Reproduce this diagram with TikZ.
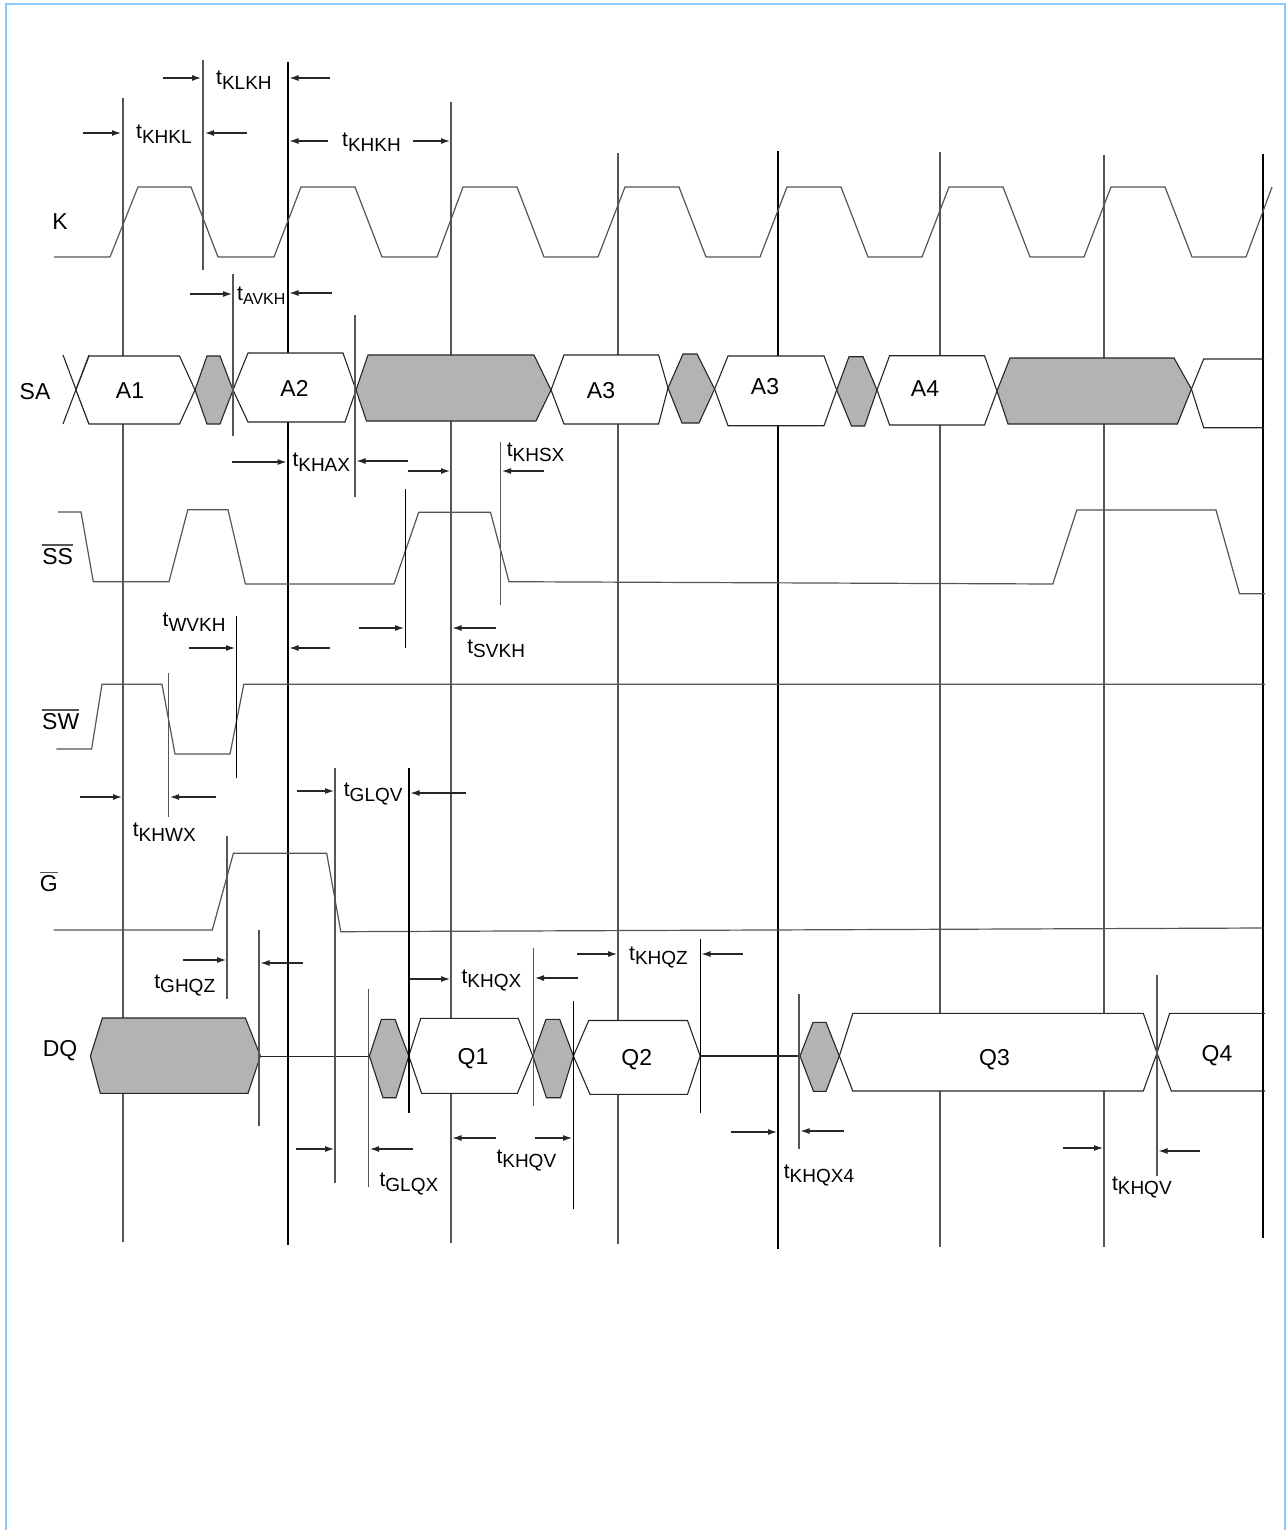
\documentclass[tikz,border=0pt]{standalone}
\usepackage{fontspec}
\setmainfont{Liberation Sans}
\usetikzlibrary{arrows.meta}
\definecolor{frameblue}{RGB}{140,200,250}
\definecolor{busgray}{RGB}{179,179,179}
\definecolor{wavegray}{RGB}{85,85,85}
\newcommand{\tsub}[2][19]{t\raisebox{-4.5pt}{\fontsize{#1}{#1}\selectfont #2}}
\begin{document}
\begin{tikzpicture}[x=1pt,y=-1pt,line join=miter,
  wave/.style={draw=wavegray,line width=1.2pt},
  guide/.style={draw=wavegray,line width=1.2pt},
  guideb/.style={draw=black,line width=1.15pt},
  busw/.style={draw=black!85,fill=white,line width=1.1pt},
  busg/.style={draw=black!85,fill=busgray,line width=1.1pt},
  busline/.style={draw=black!85,line width=1.1pt},
  tarr/.style={draw=black!85,line width=1.1pt,-{Latex[length=9pt,width=6pt]}},
  sig/.style={font=\fontsize{23}{26}\selectfont,inner sep=0pt,anchor=base},
  tl/.style={font=\fontsize{21}{24}\selectfont,inner sep=0pt,anchor=base west},
]
\useasboundingbox (0,0) rectangle (1286,1530);
% frame
\draw[frameblue,line width=2.5pt] (6,1532) -- (6,4) -- (1285,4) -- (1285,1532);

% guide lines
\draw[guide] (123,98) -- (123,1242);
\draw[guide] (203,60) -- (203,270);
\draw[guideb] (288,62) -- (288,1245);
\draw[guide] (451,102) -- (451,1243);
\draw[guide] (618,153) -- (618,1244);
\draw[guideb] (778,151) -- (778,1249);
\draw[guide] (940,152) -- (940,1247);
\draw[guide] (1104,155) -- (1104,1247);
\draw[guideb] (1263,154) -- (1263,1238);

% K
\draw[wave] (54,257) -- (110,257) -- (138,187) -- (191,187) -- (218,257) -- (274,257) -- (301,187) -- (355,187) -- (382,257) -- (437,257) -- (463,187) -- (517,187) -- (544,257) -- (598,257) -- (625,187) -- (679,187) -- (706,257) -- (760,257) -- (787,187) -- (841,187) -- (868,257) -- (922,257) -- (949,187) -- (1003,187) -- (1030,257) -- (1084,257) -- (1111,187) -- (1165,187) -- (1192,257) -- (1246,257) -- (1272,187);

% SA bus
\draw[busline] (63,355) -- (89,424) (63,424) -- (89,355);
\draw[busw] (76,390) -- (89,356) -- (179.5,356) -- (195,390) -- (179.5,424) -- (89,424) -- cycle;
\draw[busg] (195,390) -- (207,356) -- (220,356) -- (233,390) -- (220,424) -- (207,424) -- cycle;
\draw[busw] (233,390) -- (248,353) -- (343,353) -- (356,390) -- (345,422) -- (248,422) -- cycle;
\draw[busg] (356,390) -- (368,355) -- (534,355) -- (551,390) -- (536,421) -- (366.5,421) -- cycle;
\draw[busw] (551,390) -- (564,355) -- (658.6,355) -- (668,388) -- (658.6,424) -- (564,424) -- cycle;
\draw[busg] (668,388) -- (683,354) -- (697,354) -- (714.6,389) -- (699,423) -- (682,423) -- cycle;
\draw[busw] (714.6,389) -- (728,356) -- (824,356) -- (836.7,390) -- (824,425.7) -- (728,425.7) -- cycle;
\draw[busg] (836.7,390) -- (849,356.7) -- (863,356.7) -- (877,390) -- (864.6,426) -- (851.5,426) -- cycle;
\draw[busw] (877,390) -- (889.6,355.7) -- (984.5,355.7) -- (997,391) -- (984.5,425) -- (889.6,425) -- cycle;
\draw[busg] (997,391) -- (1010,358) -- (1174,358) -- (1191.4,389) -- (1177.4,424) -- (1008,424) -- cycle;
\draw[busline] (1264,359) -- (1203.7,359) -- (1191.4,389) -- (1203.7,427.7) -- (1264,427.7);

% SS
\draw[wave] (58,512) -- (81,512) -- (93.3,581.7) -- (169,581.7) -- (187.8,509.7) -- (228,509.7) -- (245.4,584) -- (394,584) -- (418.7,512.3) -- (490.5,512.3) -- (509,581.7) -- (1052.8,584) -- (1076.8,510) -- (1216,510) -- (1239.5,593.7) -- (1265,593.7);
% SW
\draw[wave] (56.4,749) -- (91.6,749) -- (102,684.3) -- (162,684.3) -- (175,754) -- (230,754) -- (243.8,684.3) -- (1265,684.3);
% G
\draw[wave] (53.5,930) -- (212.3,930) -- (233.4,853.3) -- (326.7,853.3) -- (340.8,931.7) -- (1263,928);

% DQ bus
\draw[busg] (90.4,1056) -- (102.4,1018) -- (245.4,1018) -- (260.4,1056) -- (248,1093.3) -- (100.3,1093.3) -- cycle;
\draw[busline] (260.4,1056.5) -- (369.4,1056.5);
\draw[busg] (369.4,1056) -- (381.4,1019.3) -- (395,1019.3) -- (408.8,1056) -- (396,1097.7) -- (383,1097.7) -- cycle;
\draw[busw] (408.8,1056) -- (420.8,1018.3) -- (518.2,1018.3) -- (532.8,1056) -- (517.4,1093.3) -- (421.6,1093.3) -- cycle;
\draw[busg] (532.8,1056) -- (546,1019.3) -- (559.7,1019.3) -- (573.4,1056) -- (560.5,1097.7) -- (546.4,1097.7) -- cycle;
\draw[busw] (573.4,1056) -- (588.7,1020.5) -- (687.5,1020.5) -- (700.2,1056) -- (687.5,1094.3) -- (590,1094.3) -- cycle;
\draw[busline] (700.2,1056) -- (800,1056);
\draw[busg] (800,1056) -- (813,1022.3) -- (826,1022.3) -- (839.3,1056) -- (826,1091.3) -- (813.5,1091.3) -- cycle;
\draw[busw] (839.3,1056) -- (852.8,1013.3) -- (1143.3,1013.3) -- (1157,1053) -- (1143.3,1091) -- (852.8,1091) -- cycle;
\draw[busline] (1265,1013.3) -- (1169.6,1013.3) -- (1157,1053) -- (1171.3,1091) -- (1265,1091);

% timing reference lines
\draw[guide] (233,274) -- (233,436);
\draw[guide] (355,315) -- (355,497);
\draw[guide] (500.5,442) -- (500.5,605);
\draw[guideb] (405.5,489) -- (405.5,648);
\draw[guide] (168.3,673) -- (168.3,817);
\draw[guideb] (236.3,616) -- (236.3,778);
\draw[guide] (227,836) -- (227,999);
\draw[guide] (259,930) -- (259,1126);
\draw[guide] (335,768) -- (335,1183);
\draw[guideb] (409,768) -- (409,1113);
\draw[guide] (533.6,948) -- (533.6,1106);
\draw[guideb] (573.4,1001) -- (573.4,1209);
\draw[guide] (368.6,989) -- (368.6,1187);
\draw[guideb] (700.2,939) -- (700.2,1113);
\draw[guide] (799,994) -- (799,1149);
\draw[guide] (1157,975) -- (1157,1176);

% arrows
\draw[tarr] (163,78) -- (201,78);   \draw[tarr] (330,78) -- (289.5,78);
\draw[tarr] (83,133) -- (121,133);  \draw[tarr] (247,133) -- (205,133);
\draw[tarr] (328,141) -- (289.5,141); \draw[tarr] (413,141) -- (450,141);
\draw[tarr] (190,294) -- (232,294); \draw[tarr] (332,293) -- (289.5,293);
\draw[tarr] (232,462) -- (286.5,462); \draw[tarr] (407.5,461) -- (356.5,461);
\draw[tarr] (408,471) -- (450,471); \draw[tarr] (544,471) -- (502,471);
\draw[tarr] (189,648) -- (235,648); \draw[tarr] (330,648) -- (289.5,648);
\draw[tarr] (359,628) -- (404,628); \draw[tarr] (496,628) -- (452.5,628);
\draw[tarr] (80,797) -- (122,797);  \draw[tarr] (216,797) -- (170,797);
\draw[tarr] (297,791) -- (334,791); \draw[tarr] (466,793) -- (410.5,793);
\draw[tarr] (183,960) -- (226,960); \draw[tarr] (303,963) -- (260.5,963);
\draw[tarr] (410,979) -- (450,979); \draw[tarr] (577.5,978) -- (535,978);
\draw[tarr] (577,954) -- (617,954); \draw[tarr] (743,954) -- (701.5,954);
\draw[tarr] (296,1149) -- (334,1149); \draw[tarr] (412.5,1149) -- (370,1149);
\draw[tarr] (496,1138) -- (452.5,1138); \draw[tarr] (535,1138) -- (572,1138);
\draw[tarr] (731,1132) -- (777,1132); \draw[tarr] (844,1131) -- (800.5,1131);
\draw[tarr] (1063,1148) -- (1103,1148); \draw[tarr] (1200,1151) -- (1158.5,1151);

% signal labels
\node[sig] (lK) at (60,230) {K};
\node[sig] (lSA) at (35,399) {SA};
\node[sig] (lA1) at (130,398) {A1};
\node[sig] (lA2) at (294.5,396.7) {A2};
\node[sig] (lA3) at (601,398.3) {A3};
\node[sig] (lA3b) at (765,394) {A3};
\node[sig] (lA4) at (925,396.7) {A4};
\node[sig] (lSS) at (57.6,564.3) {SS};
\draw[wave] ([yshift=3pt]lSS.north west) -- ([yshift=3pt]lSS.north east);
\node[sig] (lSW) at (60.7,729.3) {SW};
\draw[wave] ([yshift=3pt]lSW.north west) -- ([yshift=3pt]lSW.north east);
\node[sig] (lG) at (48.7,891.7) {G};
\draw[wave] ([yshift=3pt]lG.north west) -- ([yshift=3pt]lG.north east);
\node[sig] (lDQ) at (60,1056) {DQ};
\node[sig] (lQ1) at (473,1064) {Q1};
\node[sig] (lQ2) at (636.8,1065) {Q2};
\node[sig] (lQ3) at (994.5,1065) {Q3};
\node[sig] (lQ4) at (1217,1061) {Q4};

% timing labels
\node[tl] (t1) at (216,85) {\tsub{KLKH}};
\node[tl] (t2) at (136,139) {\tsub{KHKL}};
\node[tl] (t3) at (342,146.7) {\tsub{KHKH}};
\node[tl] (t4) at (237,300) {\tsub[16]{AVKH}};
\node[tl] (t5) at (292.3,466.7) {\tsub{KHAX}};
\node[tl] (t6) at (506.6,456.7) {\tsub{KHSX}};
\node[tl] (t7) at (162.5,626.7) {\tsub{WVKH}};
\node[tl] (t8) at (467.2,653.3) {\tsub{SVKH}};
\node[tl] (t9) at (132.7,836.7) {\tsub{KHWX}};
\node[tl] (t10) at (343.7,796.7) {\tsub{GLQV}};
\node[tl] (t11) at (154.2,988.3) {\tsub{GHQZ}};
\node[tl] (t12) at (461.4,983.3) {\tsub{KHQX}};
\node[tl] (t13) at (629,960) {\tsub{KHQZ}};
\node[tl] (t14) at (379.4,1186.7) {\tsub{GLQX}};
\node[tl] (t15) at (496.3,1163.3) {\tsub{KHQV}};
\node[tl] (t16) at (783.7,1178.3) {\tsub{KHQX4}};
\node[tl] (t17) at (1111.8,1190) {\tsub{KHQV}};
\end{tikzpicture}
\end{document}
